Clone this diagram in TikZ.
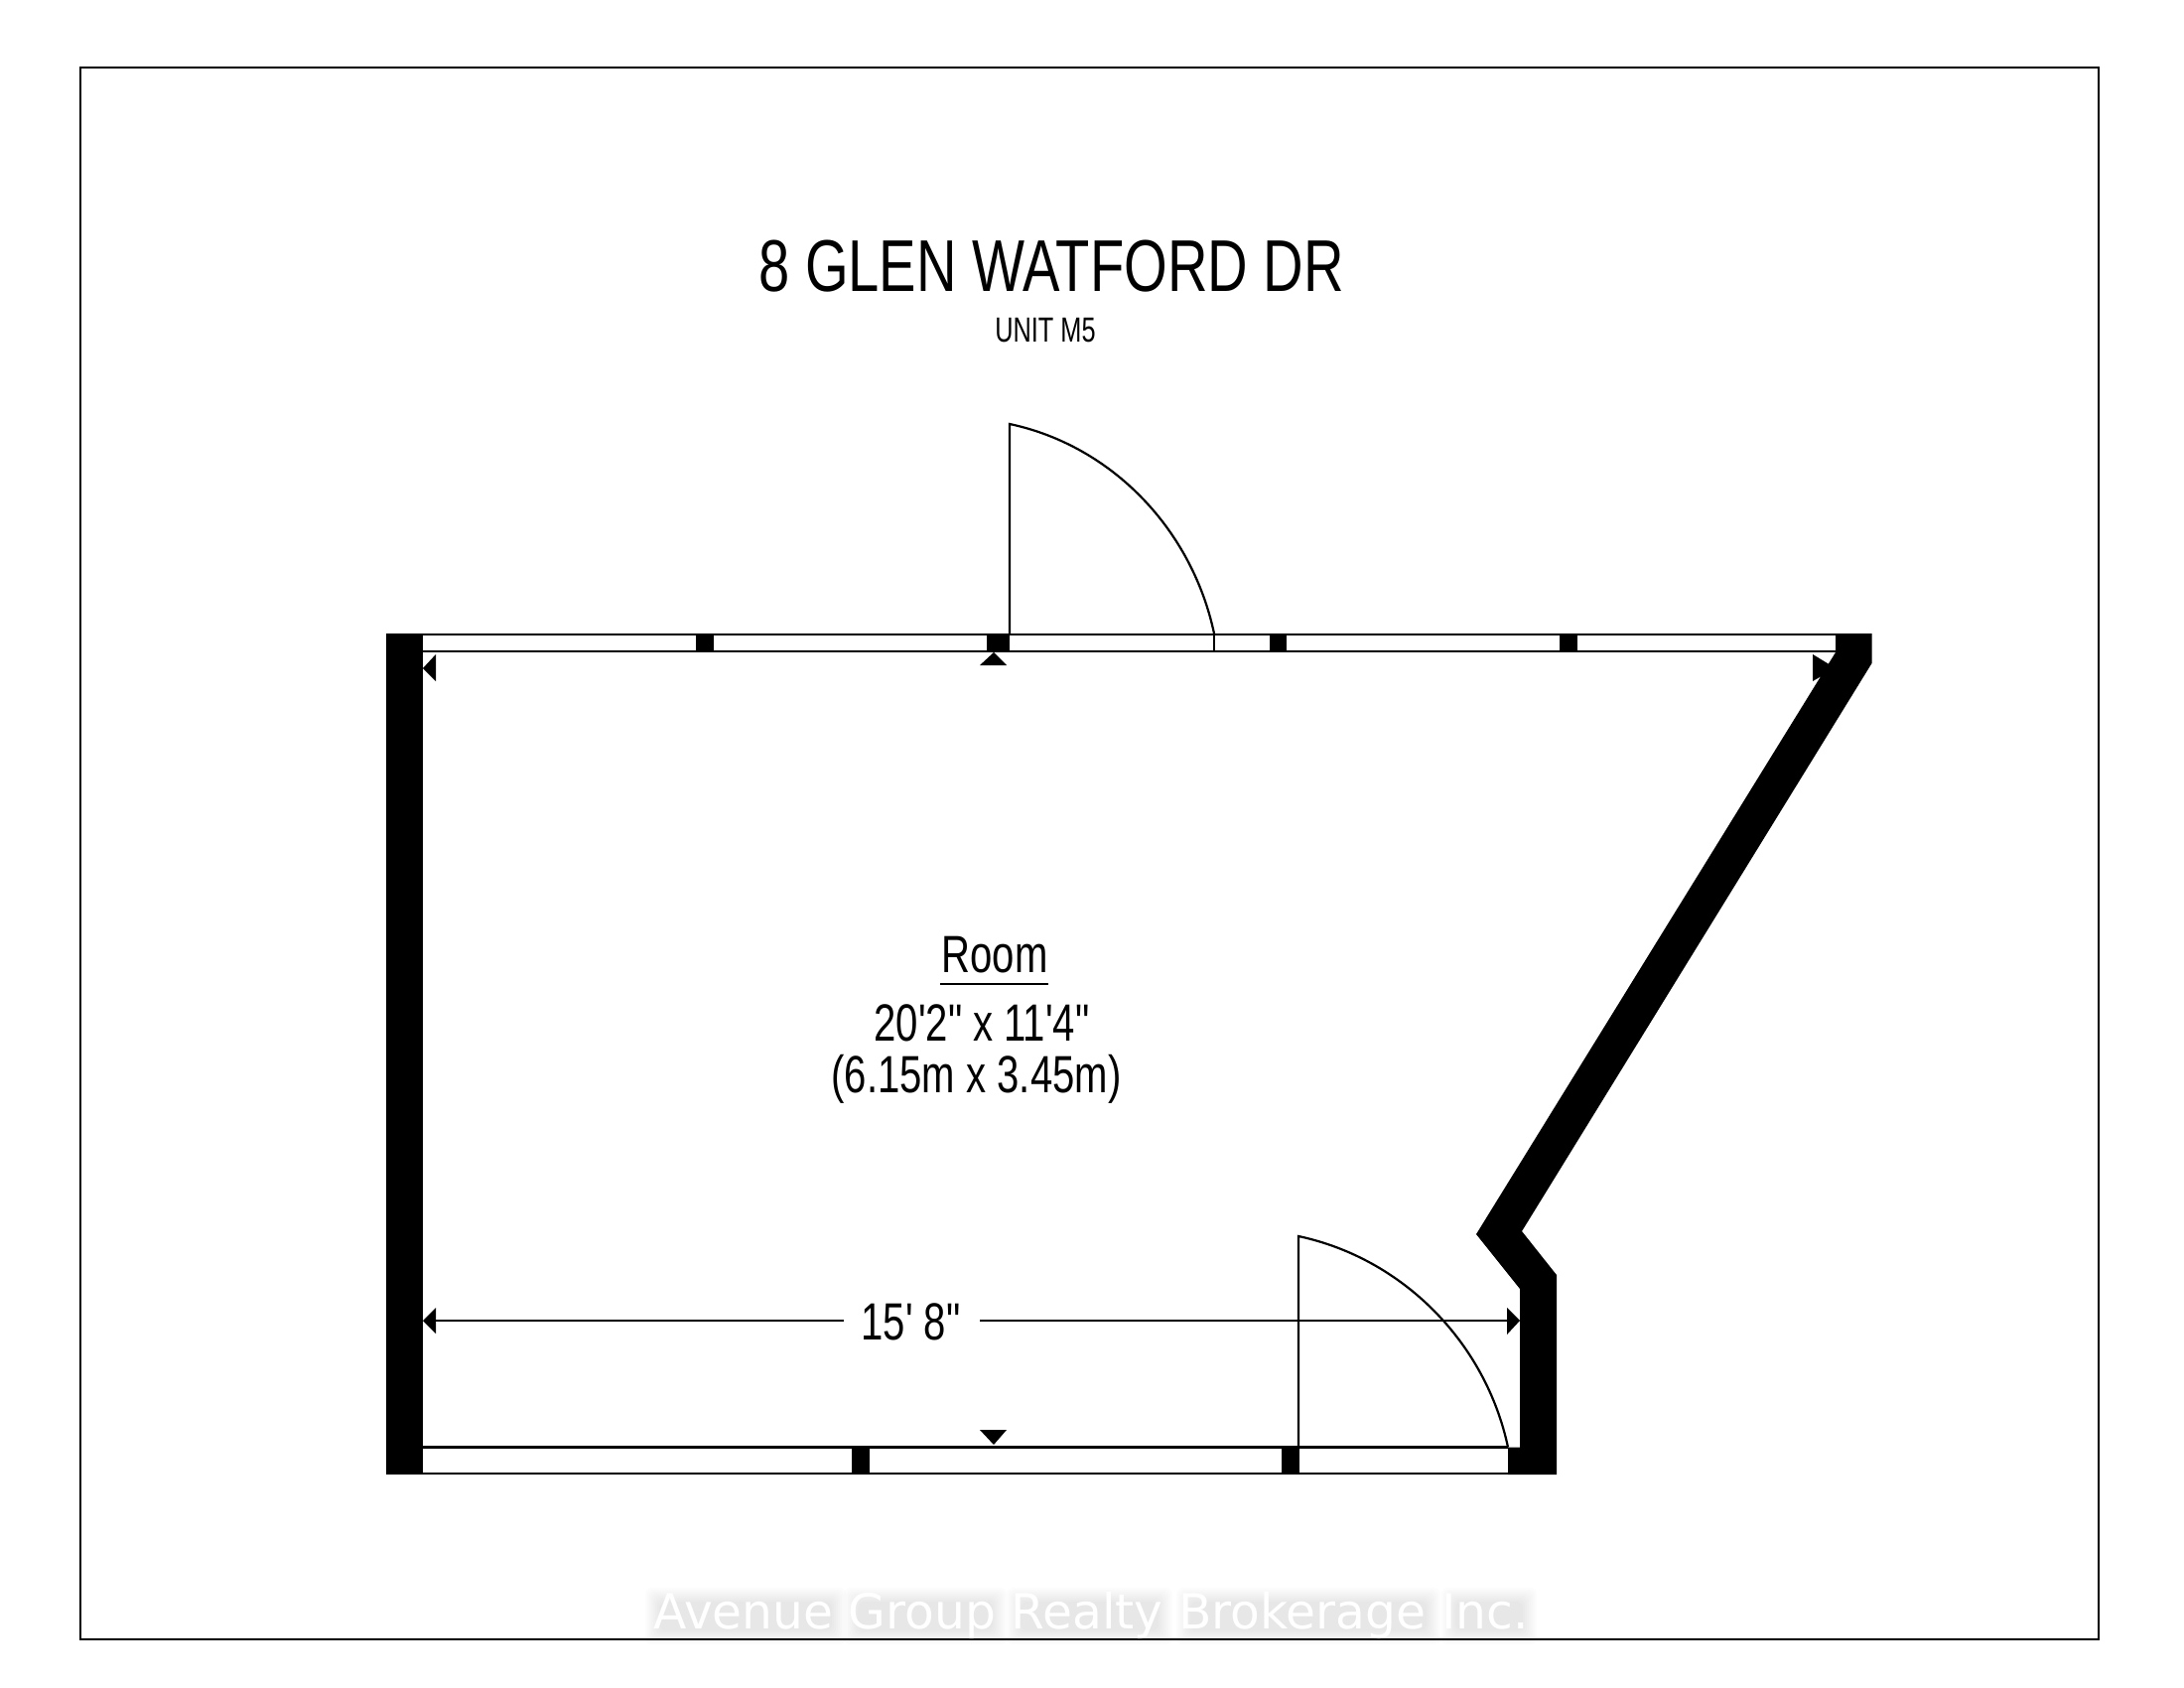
\documentclass[tikz,border=0pt]{standalone}
\usepackage{fontspec}
\setmainfont{Liberation Sans}
\newfontfamily\nar[FakeStretch=0.76]{Liberation Sans}
\newfontfamily\narb[FakeStretch=0.72]{Liberation Sans}
\newfontfamily\wmfont{DejaVu Sans}
\tikzset{
  line/.style={draw=black,line width=0.022cm},
  solid wall/.style={fill=black,draw=none},
  tip/.style={fill=black,draw=none},
  lab/.style={anchor=base,inner sep=0pt,outer sep=0pt,text=black},
  wm/.style={anchor=base,inner sep=0pt,outer sep=0pt,font=\wmfont\fontsize{13.85}{16}\selectfont},
  swing/.style={out=-12,in=102,looseness=0.92},
}
\begin{document}
\begin{tikzpicture}[x=0.01cm,y=-0.01cm]
\useasboundingbox (0,0) rectangle (2200,1700);
\fill[white] (0,0) rectangle (2200,1700);
% watermark haze, one soft patch per word
\foreach \xa/\xb in {660/842,860/1004,1024/1171,1195/1441,1462/1538}{
  \foreach \g in {0,2,4,6,8,10,12,14}{
    \fill[black,opacity=0.013,rounded corners=0.06cm] (\xa-10+\g,1599+\g) rectangle (\xb+10-\g,1656-\g);
  }
}
% frame
\draw[black,line width=0.02cm] (81,68) rectangle (2114,1650.5);
% walls
\fill[solid wall] (389,638) rectangle (426,1485);
\fill[solid wall] (1849,638) -- (1885.5,638) -- (1885.5,668) -- (1533,1240) -- (1568,1284) -- (1568,1485) -- (1519,1485) -- (1519,1457.5) -- (1531,1457.5) -- (1531,1298) -- (1487,1243) -- (1849,657) -- cycle;
% top window
\draw[line] (426,639) -- (1849,639);
\draw[line] (426,656) -- (1849,656);
\fill[solid wall] (701,638) rectangle (719,657);
\fill[solid wall] (994,638) rectangle (1017,657);
\fill[solid wall] (1278.5,638) rectangle (1296,657);
\fill[solid wall] (1571,638) rectangle (1589,657);
\draw[line] (1223,638) -- (1223,656);
% bottom window
\draw[line] (426,1457.5) -- (1519,1457.5);
\draw[line] (426,1484) -- (1519,1484);
\fill[solid wall] (858,1457) rectangle (876,1485);
\fill[solid wall] (1291,1457) rectangle (1309,1485);
% doors
\coordinate (d1h) at (1017,638);
\coordinate (d1t) at (1017,427);
\coordinate (d1e) at (1223,638);
\draw[line] (d1h) -- (d1t) to[swing] (d1e);
\coordinate (d2h) at (1308,1457.5);
\coordinate (d2t) at (1308,1245);
\coordinate (d2e) at (1519,1457.5);
\draw[line] (d2h) -- (d2t) to[swing] (d2e);
% marker triangles
\fill[tip] (1001,657) -- (1014,670) -- (987,670) -- cycle;
\fill[tip] (1001,1455) -- (1014,1440) -- (987,1440) -- cycle;
\fill[tip] (426,673) -- (439,659) -- (439,686) -- cycle;
\fill[tip] (1849,673) -- (1826,659) -- (1826,686) -- cycle;
% dimension
\coordinate (dl) at (439,1330);
\coordinate (dm1) at (850,1330);
\coordinate (dm2) at (987,1330);
\coordinate (dr) at (1518,1330);
\draw[line] (dl) -- (dm1);
\draw[line] (dm2) -- (dr);
\fill[tip] (426,1330) -- (439,1317) -- (439,1343) -- cycle;
\fill[tip] (1531,1330) -- (1518,1317) -- (1518,1344) -- cycle;
% texts
\node[lab,font=\nar\fontsize{21}{24}\selectfont] (title) at (1059,294) {8 GLEN WATFORD DR};
\node[lab,font=\narb\fontsize{10}{12}\selectfont] (unit) at (1053,344) {UNIT M5};
\node[lab,font=\nar\fontsize{15}{18}\selectfont] (room) at (1002,979) {Room};
\draw[line] (947,990.7) -- (1056,990.7);
\node[lab,font=\nar\fontsize{15}{18}\selectfont] (size) at (989,1048) {20'2" x 11'4"};
\node[lab,font=\nar\fontsize{15}{18}\selectfont] (metric) at (983.5,1100) {(6.15m x 3.45m)};
\node[lab,font=\nar\fontsize{15}{18}\selectfont] (dim) at (917.5,1349) {15' 8"};
% watermark
\node[wm,text=white] (wmark) at (1099,1640) {Avenue Group Realty Brokerage Inc.};
\end{tikzpicture}
\end{document}
